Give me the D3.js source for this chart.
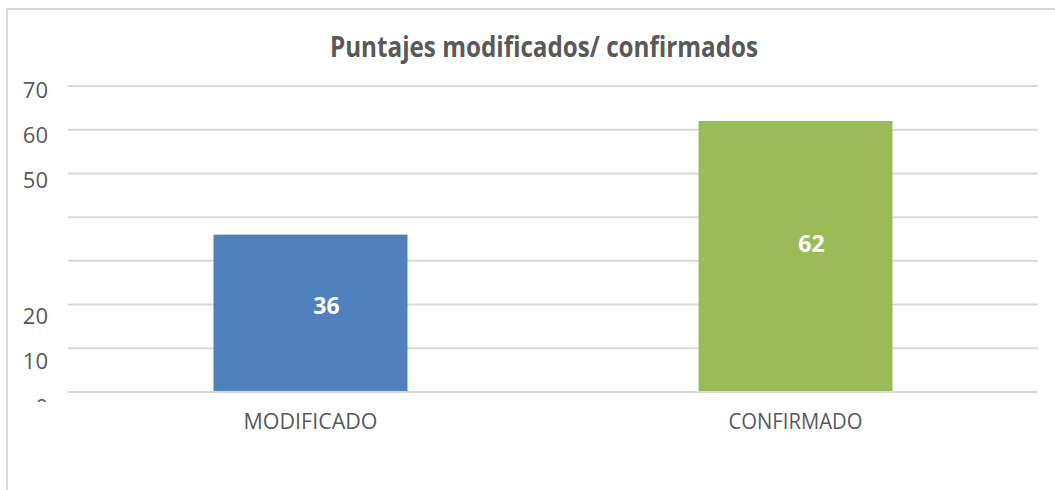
<!DOCTYPE html>
<html><head><meta charset="utf-8">
<script src="https://cdn.jsdelivr.net/npm/d3@7"></script>
<style>
html,body{margin:0;padding:0;background:#fff;}
svg{display:block;}
</style></head>
<body>
<script>
const title = "Puntajes modificados/ confirmados";
const categories = ["MODIFICADO", "CONFIRMADO"];
const values = [36, 62];
const barColors = ["#4F81BD", "#9BBB59"];
const gridValues = [0, 10, 20, 30, 40, 50, 60, 70];
const yTickValues = [0, 10, 20, 50, 60, 70];
const yTickLabels = ["0", "10", "20", "50", "60", "70"];

const W = 1055, H = 490;
const svg = d3.select("body").append("svg").attr("width", W).attr("height", H);
const txt = "#595959";
const font = "'Open Sans', 'Noto Sans', sans-serif";

// chart border
svg.append("rect").attr("x", 7).attr("y", 9).attr("width", 1200).attr("height", 700)
  .attr("fill", "#fff").attr("stroke", "#d9d9d9").attr("stroke-width", 2);

const left = 68, right = 1038;
const y = d3.scaleLinear().domain([0, 70]).range([392, 86]);
const yLab = d3.scaleLinear().domain([0, 70]).range([414, 97]);
const x = d3.scaleBand().domain(categories).range([left, right]).paddingInner(0.6).paddingOuter(0.3);

// gridlines
svg.append("g").selectAll("line").data(gridValues).join("line")
  .attr("x1", left).attr("x2", right)
  .attr("y1", d => y(d)).attr("y2", d => y(d))
  .attr("stroke", "#d9d9d9").attr("stroke-width", 2);

// y labels
svg.append("defs").append("clipPath").attr("id", "ylc")
  .append("rect").attr("x", 0).attr("y", 60).attr("width", 66).attr("height", 342);
const yAxis = d3.axisLeft(yLab).tickValues(yTickValues)
  .tickFormat((d, i) => yTickLabels[i]).tickSize(0).tickPadding(0);
const gy = svg.append("g").attr("clip-path", "url(#ylc)")
  .append("g").attr("transform", "translate(48,0)").call(yAxis);
gy.select(".domain").remove();
gy.selectAll("text").attr("font-family", font).attr("font-size", 22)
  .attr("fill", txt).attr("dy", 0).attr("dominant-baseline", "alphabetic");

// bars
svg.append("g").selectAll("rect").data(values).join("rect")
  .attr("x", (d, i) => x(categories[i]))
  .attr("width", x.bandwidth())
  .attr("y", d => y(d))
  .attr("height", d => y(0) - y(d) - 1)
  .attr("fill", (d, i) => barColors[i]);

// bar value labels
svg.append("g").selectAll("text").data(values).join("text")
  .attr("x", (d, i) => x(categories[i]) + x.bandwidth() / 2 + 16)
  .attr("y", d => y(d * 0.55) + 9)
  .attr("text-anchor", "middle")
  .attr("font-family", font).attr("font-weight", "bold").attr("font-size", 23)
  .attr("fill", "#fff")
  .text(d => d);

// x axis labels
const xAxis = d3.axisBottom(x).tickSize(0).tickPadding(0);
const gx = svg.append("g").attr("transform", "translate(0,429)").call(xAxis);
gx.select(".domain").remove();
gx.selectAll("text").attr("font-family", font).attr("font-size", 22)
  .attr("fill", txt).attr("dy", 0).attr("dominant-baseline", "alphabetic")
  .attr("textLength", 134).attr("lengthAdjust", "spacingAndGlyphs");

// title
svg.append("text").attr("x", 544).attr("y", 57).attr("text-anchor", "middle")
  .attr("font-family", font).attr("font-weight", "bold").attr("font-size", 28)
  .attr("fill", txt)
  .attr("textLength", 428).attr("lengthAdjust", "spacingAndGlyphs")
  .text(title);
</script>
</body></html>
